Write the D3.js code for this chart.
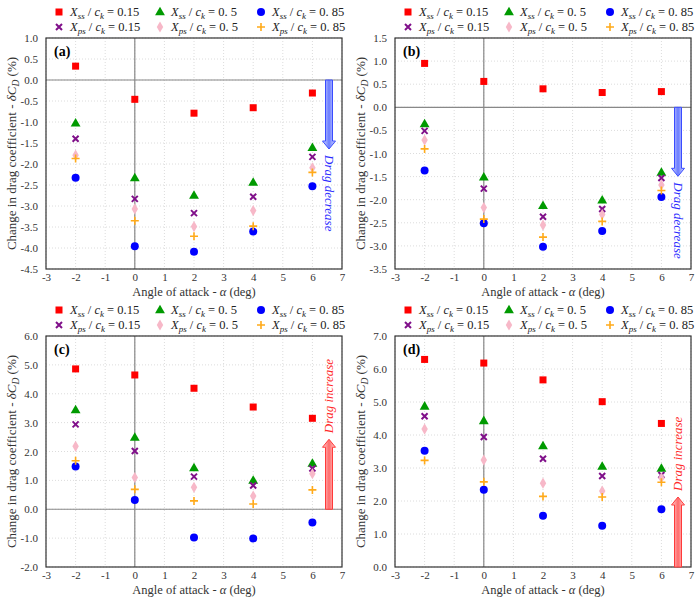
<!DOCTYPE html>
<html>
<head>
<meta charset="UTF-8">
<title>Drag coefficient change</title>
<style>
  body { margin: 0; background: #fff; }
</style>
</head>
<body>
<script src="https://cdn.jsdelivr.net/npm/d3@7/dist/d3.min.js"></script>
<script>
// angle of attack (deg)
var alphas = [-2, 0, 2, 4, 6];

// panel (a)
var aSs015 = [0.33, -0.46, -0.79, -0.66, -0.31];
var aSs05  = [-1.03, -2.33, -2.75, -2.44, -1.61];
var aSs085 = [-2.33, -3.96, -4.09, -3.61, -2.53];
var aPs015 = [-1.40, -2.83, -3.17, -2.78, -1.83];
var aPs05  = [-1.79, -3.07, -3.49, -3.11, -2.09];
var aPs085 = [-1.87, -3.35, -3.72, -3.48, -2.20];
// panel (b)
var bSs015 = [0.95, 0.56, 0.40, 0.32, 0.34];
var bSs05  = [-0.36, -1.51, -2.13, -2.01, -1.41];
var bSs085 = [-1.37, -2.51, -3.02, -2.68, -1.94];
var bPs015 = [-0.51, -1.76, -2.37, -2.20, -1.53];
var bPs05  = [-0.71, -2.17, -2.55, -2.32, -1.68];
var bPs085 = [-0.90, -2.42, -2.81, -2.47, -1.80];
// panel (c)
var cSs015 = [4.86, 4.65, 4.19, 3.54, 3.15];
var cSs05  = [3.44, 2.49, 1.43, 1.00, 1.59];
var cSs085 = [1.48, 0.32, -0.98, -1.01, -0.46];
var cPs015 = [2.94, 2.02, 1.13, 0.82, 1.41];
var cPs05  = [2.18, 1.10, 0.76, 0.46, 1.23];
var cPs085 = [1.68, 0.69, 0.29, 0.18, 0.67];
// panel (d)
var dSs015 = [6.29, 6.18, 5.67, 5.01, 4.35];
var dSs05  = [4.87, 4.43, 3.67, 3.05, 2.99];
var dSs085 = [3.52, 2.34, 1.55, 1.25, 1.75];
var dPs015 = [4.57, 3.94, 3.28, 2.76, 2.79];
var dPs05  = [4.18, 3.24, 2.54, 2.30, 2.70];
var dPs085 = [3.23, 2.58, 2.14, 2.12, 2.57];

// legend entries: surface, ratio text
var seriesSurf = ["ss", "ss", "ss", "ps", "ps", "ps"];
var seriesRatio = ["0.15", "0. 5", "0. 85", "0.15", "0. 5", "0. 85"];

// y-axis domains and ticks per panel
var panelNames = ["(a)", "(b)", "(c)", "(d)"];
var yMin = [-4.5, -3.5, -2.0, 0.0];
var yMax = [1.0, 1.5, 6.0, 7.0];
var yStep = [0.5, 0.5, 1.0, 1.0];
var arrowText = ["Drag decrease", "Drag decrease", "Drag increase", "Drag increase"];

var panelData = [
  [aSs015, aSs05, aSs085, aPs015, aPs05, aPs085],
  [bSs015, bSs05, bSs085, bPs015, bPs05, bPs085],
  [cSs015, cSs05, cSs085, cPs015, cPs05, cPs085],
  [dSs015, dSs05, dSs085, dPs015, dPs05, dPs085]
];

var colors = ["#ff0000", "#009a00", "#0000ff", "#80108a", "#f7b8c8", "#ffaa1a"];
var shapes = ["square", "triangle", "circle", "x", "diamond", "plus"];
var FONT = "Liberation Serif";

var svg = d3.select("body").append("svg")
  .attr("width", 700).attr("height", 600)
  .attr("font-family", FONT);
var defs = svg.append("defs");

var offsets = [[0, 0], [349, 0], [0, 298], [349, 298]];
var pLeft = 46, pRight = 342, pTop = 38, pBottom = 269;

function drawMarker(g, shape, color, x, y) {
  if (shape === "square") {
    g.append("rect").attr("x", x - 3.5).attr("y", y - 3.5)
      .attr("width", 7).attr("height", 7).attr("fill", color);
  } else if (shape === "triangle") {
    g.append("path").attr("d", d3.symbol(d3.symbolTriangle, 42)())
      .attr("transform", "translate(" + x + "," + (y + 0.5) + ")").attr("fill", color);
  } else if (shape === "circle") {
    g.append("circle").attr("cx", x).attr("cy", y).attr("r", 4).attr("fill", color);
  } else if (shape === "diamond") {
    g.append("path").attr("d", d3.symbol(d3.symbolDiamond, 36)())
      .attr("transform", "translate(" + x + "," + y + ")").attr("fill", color);
  } else if (shape === "x") {
    g.append("path").attr("d", "M-3,-3L3,3M-3,3L3,-3")
      .attr("transform", "translate(" + x + "," + y + ")")
      .attr("stroke", color).attr("stroke-width", 2).attr("fill", "none");
  } else if (shape === "plus") {
    g.append("path").attr("d", "M-4,0L4,0M0,-4L0,4")
      .attr("transform", "translate(" + x + "," + y + ")")
      .attr("stroke", color).attr("stroke-width", 1.6).attr("fill", "none");
  }
}

function addSpan(t, txt, opts) {
  var s = t.append("tspan").attr("font-family", FONT).text(txt);
  if (opts && opts.it) s.attr("font-style", "italic");
  if (opts && opts.fs) s.attr("font-size", opts.fs);
  if (opts && opts.dy) s.attr("dy", opts.dy);
  return s;
}

function legendLabel(g, x, y, surf, ratio) {
  var t = g.append("text").attr("x", x).attr("y", y)
    .attr("font-family", FONT).attr("font-size", 12.5).attr("fill", "#222");
  addSpan(t, "X", {it: true});
  addSpan(t, surf, {it: true, fs: 9, dy: 3});
  addSpan(t, " / ", {dy: -3});
  addSpan(t, "c", {it: true});
  addSpan(t, "k", {it: true, fs: 9, dy: 3});
  addSpan(t, " = " + ratio, {dy: -3});
}

panelData.forEach(function(series, p) {
  var g = svg.append("g")
    .attr("transform", "translate(" + offsets[p][0] + "," + offsets[p][1] + ")");

  var x = d3.scaleLinear().domain([-3, 7]).range([pLeft, pRight]);
  var y = d3.scaleLinear().domain([yMin[p], yMax[p]]).range([pBottom, pTop]);
  var yTicks = d3.range(yMin[p], yMax[p] + yStep[p] / 2, yStep[p]);
  var xTicks = d3.range(-3, 8, 1);

  // grid
  g.append("g").selectAll("line").data(yTicks).enter().append("line")
    .attr("x1", pLeft).attr("x2", pRight)
    .attr("y1", function(d) { return y(d); }).attr("y2", function(d) { return y(d); })
    .attr("stroke", "#dcdcdc").attr("stroke-dasharray", "1,2");
  g.append("g").selectAll("line").data(xTicks).enter().append("line")
    .attr("y1", pTop).attr("y2", pBottom)
    .attr("x1", function(d) { return x(d); }).attr("x2", function(d) { return x(d); })
    .attr("stroke", "#dcdcdc").attr("stroke-dasharray", "1,2");

  // zero lines
  g.append("line").attr("x1", x(0)).attr("x2", x(0)).attr("y1", pTop).attr("y2", pBottom)
    .attr("stroke", "#888").attr("stroke-width", 1.2);
  if (yMin[p] < 0) {
    g.append("line").attr("x1", pLeft).attr("x2", pRight).attr("y1", y(0)).attr("y2", y(0))
      .attr("stroke", "#888").attr("stroke-width", 1.2);
  }

  // axes
  var ya = g.append("g").attr("transform", "translate(" + pLeft + ",0)")
    .call(d3.axisLeft(y).tickValues(yTicks).tickSize(0).tickPadding(8));
  var xa = g.append("g").attr("transform", "translate(0," + pBottom + ")")
    .call(d3.axisBottom(x).tickValues(xTicks).tickSize(0).tickPadding(4));
  [ya, xa].forEach(function(a) {
    a.attr("font-family", FONT).attr("font-size", 11);
    a.select(".domain").remove();
    a.selectAll("text").attr("font-family", FONT).attr("font-size", 11).attr("fill", "#333");
  });
  ya.selectAll("text").text(function(d) { return d.toFixed(1).replace("-0.0", "0.0"); });
  xa.selectAll("text").text(function(d) { return String(d); });

  // frame
  g.append("rect").attr("x", pLeft).attr("y", pTop)
    .attr("width", pRight - pLeft).attr("height", pBottom - pTop)
    .attr("fill", "none").attr("stroke", "#333").attr("stroke-width", 1.2);

  // panel label
  g.append("text").attr("x", pLeft + 8).attr("y", pTop + 18)
    .attr("font-family", FONT).attr("font-size", 14).attr("font-weight", "bold").text(panelNames[p]);

  // axis titles
  var xt = g.append("text").attr("x", (pLeft + pRight) / 2).attr("y", pBottom + 27)
    .attr("font-family", FONT).attr("text-anchor", "middle").attr("font-size", 12.5).attr("fill", "#333");
  addSpan(xt, "Angle of attack - ");
  addSpan(xt, "α", {it: true});
  addSpan(xt, " (deg)");

  var yt = g.append("text")
    .attr("transform", "translate(16," + (pTop + pBottom) / 2 + ") rotate(-90)")
    .attr("font-family", FONT).attr("text-anchor", "middle").attr("font-size", 13).attr("fill", "#333");
  addSpan(yt, "Change in drag coefficient - ");
  addSpan(yt, "δC", {it: true});
  addSpan(yt, "D", {it: true, fs: 9.5, dy: 3});
  addSpan(yt, " (%)", {dy: -3});

  // legend above plot
  var lg = g.append("g");
  var colX = [59, 160, 261];
  series.forEach(function(s, i) {
    var cx = colX[i % 3], cy = i < 3 ? 12 : 27;
    drawMarker(lg, shapes[i], colors[i], cx, cy);
    legendLabel(lg, cx + 11, cy + 4, seriesSurf[i], seriesRatio[i]);
  });

  // arrow
  var ax = 329;
  var isDown = p < 2;
  var base = y(0);
  var tip = isDown ? y(0) + 69 : y(0) - 70;
  var dir = isDown ? 1 : -1;
  var headLen = 8, sw = 3.5, hw = 6.5;
  var hb = tip - dir * headLen;
  var arrowPath = "M" + (ax - sw) + "," + base + "L" + (ax - sw) + "," + hb +
    "L" + (ax - hw) + "," + hb + "L" + ax + "," + tip + "L" + (ax + hw) + "," + hb +
    "L" + (ax + sw) + "," + hb + "L" + (ax + sw) + "," + base + "Z";
  var gradId = "grad" + p;
  var grad = defs.append("linearGradient").attr("id", gradId)
    .attr("x1", 0).attr("x2", 1).attr("y1", 0).attr("y2", 0);
  var ac = isDown ? "#6a7cff" : "#ff6a6a";
  var ac2 = isDown ? "#d8dcff" : "#ffd6d6";
  grad.append("stop").attr("offset", "0%").attr("stop-color", ac2);
  grad.append("stop").attr("offset", "50%").attr("stop-color", ac);
  grad.append("stop").attr("offset", "100%").attr("stop-color", ac2);
  g.append("path").attr("d", arrowPath).attr("fill", "url(#" + gradId + ")")
    .attr("stroke", isDown ? "#3a4cff" : "#ff3a3a").attr("stroke-width", 1);
  var tcol = isDown ? "#2b2bff" : "#ff2a2a";
  if (isDown) {
    g.append("text").attr("transform", "translate(" + (ax - 4) + "," + (tip + 6) + ") rotate(90)")
      .attr("font-family", FONT).attr("font-size", 13).attr("font-style", "italic")
      .attr("fill", tcol).text(arrowText[p]);
  } else {
    g.append("text").attr("transform", "translate(" + (ax + 4) + "," + (tip - 6) + ") rotate(-90)")
      .attr("font-family", FONT).attr("font-size", 13).attr("font-style", "italic")
      .attr("fill", tcol).text(arrowText[p]);
  }

  // data points
  var mg = g.append("g");
  series.forEach(function(vals, i) {
    vals.forEach(function(v, j) {
      drawMarker(mg, shapes[i], colors[i], x(alphas[j]), y(v));
    });
  });
});
</script>
</body>
</html>
